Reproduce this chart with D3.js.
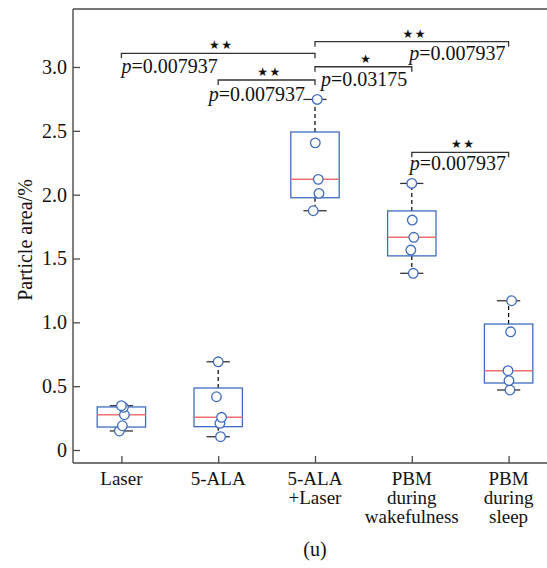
<!DOCTYPE html>
<html><head><meta charset="utf-8">
<script src="https://cdn.jsdelivr.net/npm/d3@7/dist/d3.min.js"></script>
<style>
html,body{margin:0;padding:0;background:#fff;}
svg{display:block;}
</style></head>
<body>
<svg id="chart" width="547" height="568"></svg>
<script>
// ---------- data ----------
const categories = [["Laser"],["5-ALA"],["5-ALA","+Laser"],["PBM","during","wakefulness"],["PBM","during","sleep"]];
const laser      = [0.149, 0.190, 0.276, 0.334, 0.347];
const ala        = [0.104, 0.209, 0.256, 0.417, 0.691];
const alaLaser   = [1.874, 2.010, 2.120, 2.406, 2.746];
const pbmWake    = [1.384, 1.566, 1.666, 1.801, 2.088];
const pbmSleep   = [0.470, 0.543, 0.621, 0.926, 1.169];
// horizontal jitter of the dots, in category units
const jitterLaser    = [-0.021, 0.010, 0.031, 0.021, 0.000];
const jitterAla      = [0.024, 0.018, 0.035, -0.018, 0.000];
const jitterAlaLaser = [-0.018, 0.041, 0.034, 0.003, 0.023];
const jitterWake     = [0.015, -0.010, 0.021, 0.005, 0.000];
const jitterSleep    = [0.014, 0.004, -0.006, 0.021, 0.031];
const yTicks = [0, 0.5, 1.0, 1.5, 2.0, 2.5, 3.0];
const yTickLabels = ["0","0.5","1.0","1.5","2.0","2.5","3.0"];
// significance brackets: [group a, group b], height (data units), stars, p label
const sigPairs  = [[1,3],[2,3],[3,4],[3,5],[4,5]];
const sigLevels = [3.107, 2.898, 3.002, 3.198, 2.332];
const sigStars  = [2, 2, 1, 2, 2];
const sigP      = ["0.007937","0.007937","0.03175","0.007937","0.007937"];
const yLabel = "Particle area/%";
const panelLabel = "(u)";

const series = [laser, ala, alaLaser, pbmWake, pbmSleep];
const jitters = [jitterLaser, jitterAla, jitterAlaLaser, jitterWake, jitterSleep];

// ---------- layout ----------
const svg = d3.select("#chart");
const L = 73, T = 9, B = 463, R = 557;
const x = d3.scaleLinear().domain([0.5, 5.5]).range([L, R]);
const y = d3.scaleLinear().domain([0, 3]).range([450, 67]);

const fs = 20, serif = "Liberation Serif";
const blue = "#3f6cc0", red = "#f07070", axisCol = "#4a4a4a";

// MATLAB-like quantile
function prc(arr, p){
  const s = arr.slice().sort(d3.ascending), n = s.length;
  let pos = p*n + 0.5;
  if (pos < 1) return s[0];
  if (pos > n) return s[n-1];
  const i = Math.floor(pos), f = pos - i;
  return i >= n ? s[n-1] : s[i-1] + f*(s[i]-s[i-1]);
}

const boxW = 0.5, capW = 0.24;
series.forEach((vals, i) => {
  const c = i + 1;
  const q1 = prc(vals, 0.25), med = prc(vals, 0.5), q3 = prc(vals, 0.75);
  const mn = d3.min(vals), mx = d3.max(vals);
  const g = svg.append("g");
  g.append("line").attr("x1", x(c)).attr("x2", x(c)).attr("y1", y(q3)).attr("y2", y(mx))
    .attr("stroke", "#000").attr("stroke-width", 1.2).attr("stroke-dasharray", "4,3");
  g.append("line").attr("x1", x(c)).attr("x2", x(c)).attr("y1", y(q1)).attr("y2", y(mn))
    .attr("stroke", "#000").attr("stroke-width", 1.2).attr("stroke-dasharray", "4,3");
  [mn, mx].forEach(v => g.append("line")
    .attr("x1", x(c - capW/2)).attr("x2", x(c + capW/2)).attr("y1", y(v)).attr("y2", y(v))
    .attr("stroke", "#333").attr("stroke-width", 1.3));
  g.append("rect").attr("x", x(c - boxW/2)).attr("y", y(q3))
    .attr("width", x(c + boxW/2) - x(c - boxW/2)).attr("height", y(q1) - y(q3))
    .attr("fill", "none").attr("stroke", blue).attr("stroke-width", 1.3);
  g.append("line").attr("x1", x(c - boxW/2)).attr("x2", x(c + boxW/2)).attr("y1", y(med)).attr("y2", y(med))
    .attr("stroke", red).attr("stroke-width", 1.5);
  g.selectAll("circle").data(vals).join("circle")
    .attr("cx", (d, k) => x(c + jitters[i][k])).attr("cy", d => y(d)).attr("r", 4.8)
    .attr("fill", "#fff").attr("stroke", blue).attr("stroke-width", 1.3);
});

// ---------- axes ----------
const yAxis = d3.axisLeft(y).tickValues(yTicks).tickFormat((d, i) => yTickLabels[i]).tickSize(-7).tickPadding(6);
const ya = svg.append("g").attr("transform", `translate(${L},0)`).call(yAxis)
  .attr("font-family", serif).attr("font-size", fs);
ya.select(".domain").remove();
ya.selectAll("line").attr("stroke", axisCol).attr("stroke-width", 1.3);
ya.selectAll("text").attr("font-size", fs).attr("font-family", serif).attr("fill", "#111");

const xAxis = d3.axisBottom(x).tickValues([1,2,3,4,5]).tickFormat("").tickSize(-7);
const xa = svg.append("g").attr("transform", `translate(0,${B})`).call(xAxis);
xa.select(".domain").remove();
xa.selectAll("line").attr("stroke", axisCol).attr("stroke-width", 1.3);

svg.append("line").attr("x1", L).attr("x2", L).attr("y1", T).attr("y2", B).attr("stroke", axisCol).attr("stroke-width", 1.4);
svg.append("line").attr("x1", L).attr("x2", 547).attr("y1", B).attr("y2", B).attr("stroke", axisCol).attr("stroke-width", 1.4);
svg.append("line").attr("x1", L).attr("x2", 547).attr("y1", T).attr("y2", T).attr("stroke", axisCol).attr("stroke-width", 1.4);

// category labels
categories.forEach((lines, i) => {
  const t = svg.append("text").attr("x", x(i + 1)).attr("y", 485).attr("text-anchor", "middle")
    .attr("font-size", 19).attr("font-family", serif).attr("fill", "#111");
  lines.forEach((ln, k) => t.append("tspan").attr("x", x(i + 1)).attr("dy", k === 0 ? 0 : 19.2).text(ln));
});

svg.append("text").attr("transform", "translate(32,240) rotate(-90)").attr("text-anchor", "middle")
  .attr("font-size", fs).attr("font-family", serif).attr("fill", "#111").text(yLabel);
svg.append("text").attr("x", x(3)).attr("y", 556).attr("text-anchor", "middle")
  .attr("font-size", fs).attr("font-family", serif).attr("fill", "#111").text(panelLabel);

// ---------- significance ----------
const pAlign = [["start", 0, 20], ["end", -10, 21], ["start", 6, 19.5], ["end", -3, 18], ["start", -2, 18]];
sigPairs.forEach((pr, i) => {
  const x1 = x(pr[0]), x2 = x(pr[1]), yy = y(sigLevels[i]);
  svg.append("path").attr("d", `M${x1},${yy + 5}V${yy}H${x2}V${yy + 5}`)
    .attr("fill", "none").attr("stroke", "#333").attr("stroke-width", 1.3);
  svg.append("text").attr("x", (x1 + x2) / 2 + 3).attr("y", yy - 4).attr("text-anchor", "middle")
    .attr("font-size", 12).attr("font-family", "DejaVu Sans").attr("letter-spacing", 1.5).attr("fill", "#111")
    .text("★".repeat(sigStars[i]));
  const [anc, dx, dy] = pAlign[i];
  const t = svg.append("text").attr("x", (anc === "start" ? x1 : x2) + dx).attr("y", yy + dy)
    .attr("text-anchor", anc).attr("font-size", fs).attr("font-family", serif).attr("fill", "#111");
  t.append("tspan").attr("font-style", "italic").text("p");
  t.append("tspan").text("=" + sigP[i]);
});
</script>
</body></html>
